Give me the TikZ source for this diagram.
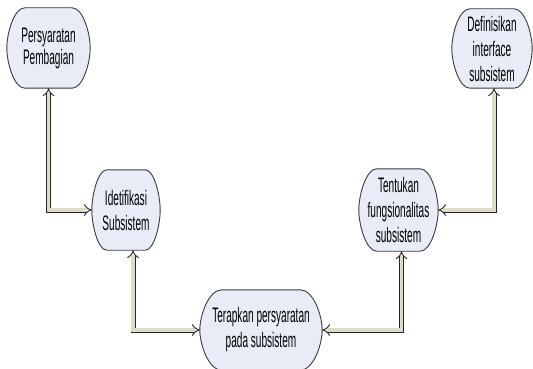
\documentclass[tikz,border=0pt]{standalone}
\usepackage{fontspec}
\setmainfont[FakeStretch=0.48]{Liberation Sans}
\usetikzlibrary{arrows.meta,calc}
\pgfdeclarelayer{background}
\pgfsetlayers{background,main}
\definecolor{blobfill}{HTML}{E8ECF7}
\definecolor{blobdraw}{HTML}{3A3A3A}
\definecolor{pipe}{HTML}{DEDCC6}
\tikzset{
  blob/.style={minimum width=#1, inner sep=0pt, align=center,
    font=\fontsize{21}{25}\selectfont},
  blobline/.style={fill=blobfill, draw=blobdraw, line width=0.9pt},
  pipeline/.style={draw=black!85, double=pipe, double distance=3.2pt,
    line width=0.9pt, {Implies[scale=1.25]}-{Implies[scale=1.25]}},
}
\newcommand\blobshape[2][18]{%
  \begin{pgfonlayer}{background}
  \path[blobline] let \p1=(#2.north west), \p2=(#2.south east),
     \n1={0.5*\y1+0.5*\y2}, \n2={0.32*(\y1-\y2)} in
    ({\x1+#1pt},\y1) -- ({\x2-#1pt},\y1)
    .. controls ({\x2-0.4*#1pt},\y1) and (\x2,{\y1-\n2}) .. (\x2,\n1)
    .. controls (\x2,{\y2+\n2}) and ({\x2-0.4*#1pt},\y2) .. ({\x2-#1pt},\y2)
    -- ({\x1+#1pt},\y2)
    .. controls ({\x1+0.4*#1pt},\y2) and (\x1,{\y2+\n2}) .. (\x1,\n1)
    .. controls (\x1,{\y1-\n2}) and ({\x1+0.4*#1pt},\y1) .. cycle;
  \end{pgfonlayer}}
\begin{document}
\begin{tikzpicture}[x=1pt,y=1pt]
\useasboundingbox (0,0) rectangle (533,-369);
\node[blob=83pt, minimum height=80pt, font=\fontsize{21}{22}\selectfont] (n1) at (48.5,-48) {Persyaratan\\Pembagian};
\node[blob=68pt, minimum height=80pt] (n2) at (126,-210) {Idetifikasi\\Subsistem};
\node[blob=122pt, minimum height=80pt] (n3) at (261,-330) {Terapkan persyaratan\\pada subsistem};
\node[blob=79pt, minimum height=82pt] (n4) at (398.5,-210) {Tentukan\\fungsionalitas\\subsistem};
\node[blob=80pt, minimum height=79pt] (n5) at (492,-48.5) {Definisikan\\interface\\subsistem};
\blobshape{n1}
\blobshape[15]{n2}
\blobshape[22]{n3}
\blobshape{n4}
\blobshape{n5}
\draw[pipeline] (n1.south) |- (n2.west);
\draw[pipeline] ([xshift=7pt]n2.south) |- (n3.west);
\draw[pipeline] ([xshift=3pt]n4.south) |- (n3.east);
\draw[pipeline] ([xshift=2pt]n5.south) |- (n4.east);
\end{tikzpicture}
\end{document}
